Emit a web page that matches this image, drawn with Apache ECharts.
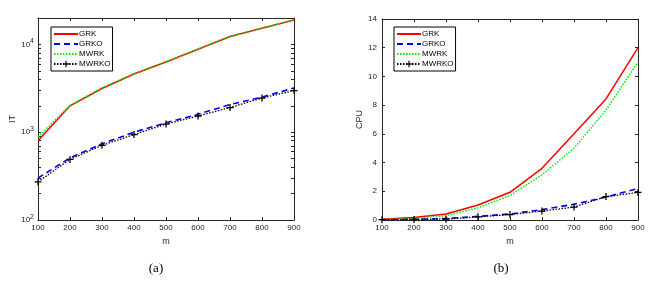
<!DOCTYPE html>
<html>
<head>
<meta charset="utf-8">
<script src="https://cdn.jsdelivr.net/npm/echarts@6/dist/echarts.min.js"></script>
<style>html,body{margin:0;padding:0;background:#fff;}#c{width:651px;height:282px;}</style>
</head>
<body>
<div id="c"></div>
<script>
const categories = [100, 200, 300, 400, 500, 600, 700, 800, 900];
// (a) IT
const itGRK   = [800, 2000, 3150, 4600, 6300, 8800, 12300, 15300, 19000];
const itGRKO  = [300, 510, 740, 1000, 1280, 1600, 2070, 2510, 3190];
const itMWRK  = [880, 2020, 3200, 4650, 6350, 8850, 12200, 15400, 19000];
const itMWRKO = [272, 490, 710, 940, 1240, 1530, 1910, 2450, 2980];
// (b) CPU
const cpuGRK   = [0.05, 0.17, 0.42, 1.04, 1.93, 3.6, 6.0, 8.43, 12.0];
const cpuGRKO  = [0.02, 0.05, 0.1, 0.25, 0.42, 0.72, 1.1, 1.6, 2.2];
const cpuMWRK  = [0.03, 0.1, 0.3, 0.85, 1.7, 3.15, 5.0, 7.66, 11.0];
const cpuMWRKO = [0.02, 0.04, 0.06, 0.22, 0.38, 0.62, 0.9, 1.63, 1.92];
const seriesNames = ['GRK', 'GRKO', 'MWRK', 'MWRKO'];
const itMajor = [100, 1000, 10000];
const itMinor = [100,200,300,400,500,600,700,800,900,1000,2000,3000,4000,5000,6000,7000,8000,9000,10000,20000];

const chart = echarts.init(document.getElementById('c'), null, {renderer: 'canvas'});
const FONT = 'Liberation Sans';
const AX = '#262626';

function pair(arr){ return categories.map((c,i)=>[c, arr[i]]); }

const plusPath = 'path://M-0.9,-5 H0.9 V-0.9 H5 V0.9 H0.9 V5 H-0.9 V0.9 H-5 V-0.9 H-0.9 Z';

function mkSeries(gi, data){
  return [
    {name:'GRK', type:'line', xAxisIndex:gi*2, yAxisIndex:gi*2, data:pair(data[0]), showSymbol:false, symbol:'none',
     lineStyle:{color:'#ff0000', width:1.5, type:'solid'}, itemStyle:{color:'#ff0000'}, z:3},
    {name:'GRKO', type:'line', xAxisIndex:gi*2, yAxisIndex:gi*2, data:pair(data[1]), showSymbol:false, symbol:'none',
     lineStyle:{color:'#0000ff', width:1.6, type:[6,4]}, itemStyle:{color:'#0000ff'}, z:2},
    {name:'MWRK', type:'line', xAxisIndex:gi*2, yAxisIndex:gi*2, data:pair(data[2]), showSymbol:false, symbol:'none',
     lineStyle:{color:'#00ee00', width:1.5, type:[1.5,1.5]}, itemStyle:{color:'#00ee00'}, z:4},
    {name:'MWRKO', type:'line', xAxisIndex:gi*2, yAxisIndex:gi*2, data:pair(data[3]), symbol:plusPath, symbolSize:7, showSymbol:true,
     lineStyle:{color:'#000000', width:1.3, type:[1.5,1.5]}, itemStyle:{color:'#000000'}, z:5}
  ];
}

function xAxes(gi){
  return [
    {type:'value', gridIndex:gi, min:100, max:900, interval:100, position:'bottom',
     name:'m', nameLocation:'middle', nameGap:15, nameTextStyle:{fontFamily:FONT, fontSize:9, color:AX},
     axisLine:{show:true, onZero:false, lineStyle:{color:AX, width:1}},
     axisTick:{show:true, inside:true, length:3, lineStyle:{color:AX}},
     axisLabel:{fontFamily:FONT, fontSize:8, color:AX, margin:4},
     splitLine:{show:false}},
    {type:'value', gridIndex:gi, min:100, max:900, interval:100, position:'top',
     axisLine:{show:true, onZero:false, lineStyle:{color:AX, width:1}},
     axisTick:{show:true, inside:true, length:3, lineStyle:{color:AX}},
     axisLabel:{show:false}, splitLine:{show:false}}
  ];
}

function legendData(){
  return seriesNames.map(n => n === 'MWRKO' ? {name:n} : {name:n, itemStyle:{opacity:0}});
}
function mkLegend(left){
  return {data:legendData(), left:left, top:27, orient:'vertical',
     itemWidth:24, itemHeight:8, itemGap:2, padding:[3,2,3,2],
     borderColor:'#000', borderWidth:1, backgroundColor:'#fff',
     textStyle:{fontFamily:FONT, fontSize:8, color:'#000', padding:[0,0,0,-4]}, selectedMode:false};
}

const option = {
  animation:false,
  backgroundColor:'#fff',
  grid:[
    {left:38, top:18, width:256, height:202},
    {left:382, top:19, width:256, height:201}
  ],
  legend:[ mkLegend(51), mkLegend(394) ],
  xAxis:[...xAxes(0), ...xAxes(1)],
  yAxis:[
    {type:'log', gridIndex:0, min:100, max:20000, logBase:10, position:'left',
     name:'IT', nameLocation:'middle', nameGap:20, nameRotate:90, nameTextStyle:{fontFamily:FONT, fontSize:9, color:AX},
     axisLine:{show:true, onZero:false, lineStyle:{color:AX, width:1}},
     axisTick:{show:true, inside:true, length:3, customValues:itMinor, lineStyle:{color:AX}},
     axisLabel:{customValues:itMajor, fontFamily:FONT, fontSize:8, color:AX, margin:4,
       formatter:function(v){ return '10{s|' + Math.round(Math.log10(v)) + '}'; },
       rich:{s:{fontSize:7, fontFamily:FONT, color:AX, verticalAlign:'top', padding:[0,0,6,0]}}},
     splitLine:{show:false}},
    {type:'log', gridIndex:0, min:100, max:20000, logBase:10, position:'right',
     axisLine:{show:true, onZero:false, lineStyle:{color:AX, width:1}},
     axisTick:{show:true, inside:true, length:3, customValues:itMinor, lineStyle:{color:AX}},
     axisLabel:{show:false}, splitLine:{show:false}},
    {type:'value', gridIndex:1, min:0, max:14, interval:2, position:'left',
     name:'CPU', nameLocation:'middle', nameGap:17, nameRotate:90, nameTextStyle:{fontFamily:FONT, fontSize:9, color:AX},
     axisLine:{show:true, onZero:false, lineStyle:{color:AX, width:1}},
     axisTick:{show:true, inside:true, length:3, lineStyle:{color:AX}},
     axisLabel:{fontFamily:FONT, fontSize:8, color:AX, margin:5},
     splitLine:{show:false}},
    {type:'value', gridIndex:1, min:0, max:14, interval:2, position:'right',
     axisLine:{show:true, onZero:false, lineStyle:{color:AX, width:1}},
     axisTick:{show:true, inside:true, length:3, lineStyle:{color:AX}},
     axisLabel:{show:false}, splitLine:{show:false}}
  ],
  series:[
    ...mkSeries(0, [itGRK, itGRKO, itMWRK, itMWRKO]),
    ...mkSeries(1, [cpuGRK, cpuGRKO, cpuMWRK, cpuMWRKO])
  ],
  graphic:[
    {type:'text', style:{text:'(a)', font:'13px "Liberation Serif"', fill:'#000', x:156, y:269, textAlign:'center', textVerticalAlign:'middle'}},
    {type:'text', style:{text:'(b)', font:'13px "Liberation Serif"', fill:'#000', x:501, y:269, textAlign:'center', textVerticalAlign:'middle'}}
  ]
};
chart.setOption(option);
</script>
</body>
</html>
